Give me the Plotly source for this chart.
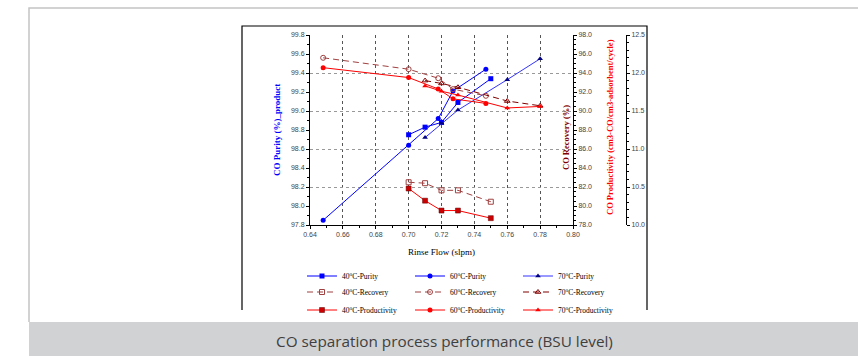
import plotly.graph_objects as go

# ---------------- data ----------------
x40 = [0.700, 0.710, 0.720, 0.730, 0.750]
purity40 = [98.75, 98.83, 98.88, 99.09, 99.34]
recovery40 = [82.5, 82.4, 81.65, 81.65, 80.45]
prod40 = [10.48, 10.32, 10.19, 10.19, 10.09]

x60 = [0.648, 0.700, 0.718, 0.727, 0.747]
purity60 = [97.85, 98.64, 98.92, 99.21, 99.44]
recovery60 = [95.6, 94.4, 93.45, 92.3, 91.6]
prod60 = [12.07, 11.94, 11.79, 11.66, 11.60]

x70 = [0.710, 0.720, 0.730, 0.760, 0.780]
purity70 = [98.72, 98.87, 99.01, 99.33, 99.55]
recovery70 = [93.2, 92.9, 92.5, 91.05, 90.55]
prod70 = [11.83, 11.76, 11.71, 11.54, 11.56]

x_ticks = [0.64, 0.66, 0.68, 0.70, 0.72, 0.74, 0.76, 0.78, 0.80]
caption = "CO separation process performance (BSU level)"

# ---------------- geometry helpers (pixel -> paper) ----------------
W, H = 858, 356
L, R, T, B = 310, 626, 35, 225
XR = 573  # right end of the x axis


def fx(p):
    return (p - L) / (R - L)


def fy(p):
    return (B - p) / (B - T)


BLUE = "#0000ff"
RED = "#ff0000"
serif = "Liberation Serif"
sans = "Liberation Sans"

fig = go.Figure()


def deg(t, s):
    return f"{t}<sup>o</sup>C-{s}"


# purity
fig.add_trace(go.Scatter(x=x40, y=purity40, name=deg(40, "Purity"), mode="lines+markers",
                         line=dict(color=BLUE, width=1), marker=dict(symbol="square", size=5, color=BLUE),
                         legend="legend"))
fig.add_trace(go.Scatter(x=x60, y=purity60, name=deg(60, "Purity"), mode="lines+markers",
                         line=dict(color=BLUE, width=1), marker=dict(symbol="circle", size=5, color=BLUE),
                         legend="legend"))
fig.add_trace(go.Scatter(x=x70, y=purity70, name=deg(70, "Purity"), mode="lines+markers",
                         line=dict(color="#3333ff", width=1),
                         marker=dict(symbol="triangle-up", size=5, color="#000080"),
                         legend="legend"))
# recovery
fig.add_trace(go.Scatter(x=x40, y=recovery40, name=deg(40, "Recovery"), mode="lines+markers", yaxis="y2",
                         line=dict(color="#a04040", width=1, dash="6px,4px"),
                         marker=dict(symbol="square-open", size=5, color="#a04040"),
                         legend="legend2"))
fig.add_trace(go.Scatter(x=x60, y=recovery60, name=deg(60, "Recovery"), mode="lines+markers", yaxis="y2",
                         line=dict(color="#a04040", width=1, dash="6px,4px"),
                         marker=dict(symbol="circle-open", size=5, color="#a04040"),
                         legend="legend2"))
fig.add_trace(go.Scatter(x=x70, y=recovery70, name=deg(70, "Recovery"), mode="lines+markers", yaxis="y2",
                         line=dict(color="#800000", width=1, dash="6px,4px"),
                         marker=dict(symbol="triangle-up-open", size=5, color="#800000"),
                         legend="legend2"))
# productivity
fig.add_trace(go.Scatter(x=x40, y=prod40, name=deg(40, "Productivity"), mode="lines+markers", yaxis="y3",
                         line=dict(color=RED, width=1),
                         marker=dict(symbol="square", size=5, color="#cc0000", line=dict(color="#600000", width=0.5)),
                         legend="legend3"))
fig.add_trace(go.Scatter(x=x60, y=prod60, name=deg(60, "Productivity"), mode="lines+markers", yaxis="y3",
                         line=dict(color=RED, width=1), marker=dict(symbol="circle", size=5, color=RED),
                         legend="legend3"))
fig.add_trace(go.Scatter(x=x70, y=prod70, name=deg(70, "Productivity"), mode="lines+markers", yaxis="y3",
                         line=dict(color=RED, width=1), marker=dict(symbol="triangle-up", size=5, color=RED),
                         legend="legend3"))

# invisible trace just to carry the horizontal dotted grid
fig.add_trace(go.Scatter(x=[None], y=[None], yaxis="y4", showlegend=False, hoverinfo="skip"))

tickfont = dict(family=sans, size=7, color="#444444")
common = dict(showline=True, linecolor="black", linewidth=1, ticks="outside", ticklen=3,
              tickcolor="black", tickfont=tickfont, zeroline=False)

fig.update_layout(
    width=W, height=H,
    margin=dict(l=L, r=W - R, t=T, b=H - B),
    paper_bgcolor="white", plot_bgcolor="white",
    showlegend=True,
    xaxis=dict(domain=[0, (XR - L) / (R - L)], range=[0.64, 0.80], tickvals=x_ticks,
               tickformat=".2f", showgrid=True, gridcolor="#555555", griddash="dot", gridwidth=1,
               minor=dict(ticks="outside", ticklen=2, dtick=0.01, tickcolor="black"),
               **common),
    yaxis=dict(range=[97.8, 99.8], dtick=0.2, tickformat=".1f", showgrid=False,
               minor=dict(ticks="outside", ticklen=2, dtick=0.1, tickcolor="black"),
               **common),
    yaxis2=dict(overlaying="y", side="right", anchor="x", range=[78, 98], dtick=2, tickformat=".1f",
                showgrid=False, minor=dict(ticks="outside", ticklen=2, dtick=0.5, tickcolor="black"),
                **common),
    yaxis3=dict(overlaying="y", side="right", anchor="free", position=1.0, range=[10, 12.5], dtick=0.5,
                tickformat=".1f", showgrid=False,
                minor=dict(ticks="outside", ticklen=2, dtick=0.1, tickcolor="black"),
                **common),
    yaxis4=dict(overlaying="y", range=[97.8, 99.8], tickvals=[98.2, 98.6, 99.0, 99.4],
                showticklabels=False, showgrid=True, gridcolor="#999999", griddash="dot",
                showline=False, zeroline=False, ticks=""),
)

leg_common = dict(orientation="h", xanchor="left", yanchor="middle", entrywidth=63,
                  entrywidthmode="pixels", bgcolor="rgba(0,0,0,0)", borderwidth=0,
                  font=dict(family=serif, size=7.5, color="black"), itemwidth=30, tracegroupgap=0)
fig.update_layout(
    legend=dict(x=fx(302), y=fy(276), **leg_common),
    legend2=dict(x=fx(302), y=fy(292), **leg_common),
    legend3=dict(x=fx(302), y=fy(310), **leg_common),
)

# frames and caption bar
shapes = [
    dict(type="path", xref="paper", yref="paper",
         path=f"M{fx(29)},{fy(322)} L{fx(29)},{fy(8)} L{fx(860)},{fy(8)}",
         line=dict(color="#c4c4c4", width=1.5)),
    dict(type="path", xref="paper", yref="paper",
         path=f"M{fx(242)},{fy(310)} L{fx(242)},{fy(26)} L{fx(647)},{fy(26)} L{fx(647)},{fy(310)}",
         line=dict(color="black", width=1.2)),
    dict(type="rect", xref="paper", yref="paper", x0=fx(29), x1=fx(860), y0=fy(322), y1=fy(360),
         fillcolor="#d1d2d4", line=dict(width=0), layer="above"),
]
fig.update_layout(shapes=shapes)

ann = [
    dict(text=caption, x=fx(444), y=fy(341), xref="paper", yref="paper", showarrow=False,
         font=dict(family="Open Sans", size=15.3, color="#404040"), xanchor="center", yanchor="middle"),
    dict(text="<b>CO Purity (%)_product</b>", x=fx(277), y=fy(130), xref="paper", yref="paper",
         showarrow=False, textangle=-90, font=dict(family=serif, size=9, color=BLUE),
         xanchor="center", yanchor="middle"),
    dict(text="<b>CO Recovery (%)</b>", x=fx(566), y=fy(138), xref="paper", yref="paper",
         showarrow=False, textangle=-90, font=dict(family=serif, size=8.5, color="#800000"),
         xanchor="center", yanchor="middle"),
    dict(text="<b>CO Productivity (cm3-CO/cm3-adsorbent/cycle)</b>", x=fx(610), y=fy(127),
         xref="paper", yref="paper", showarrow=False, textangle=-90,
         font=dict(family=serif, size=8.5, color=RED), xanchor="center", yanchor="middle"),
    dict(text="Rinse Flow (slpm)", x=fx(441), y=fy(252), xref="paper", yref="paper", showarrow=False,
         font=dict(family=serif, size=9, color="black"), xanchor="center", yanchor="middle"),
]
fig.update_layout(annotations=ann)

fig.write_html("out.html")
